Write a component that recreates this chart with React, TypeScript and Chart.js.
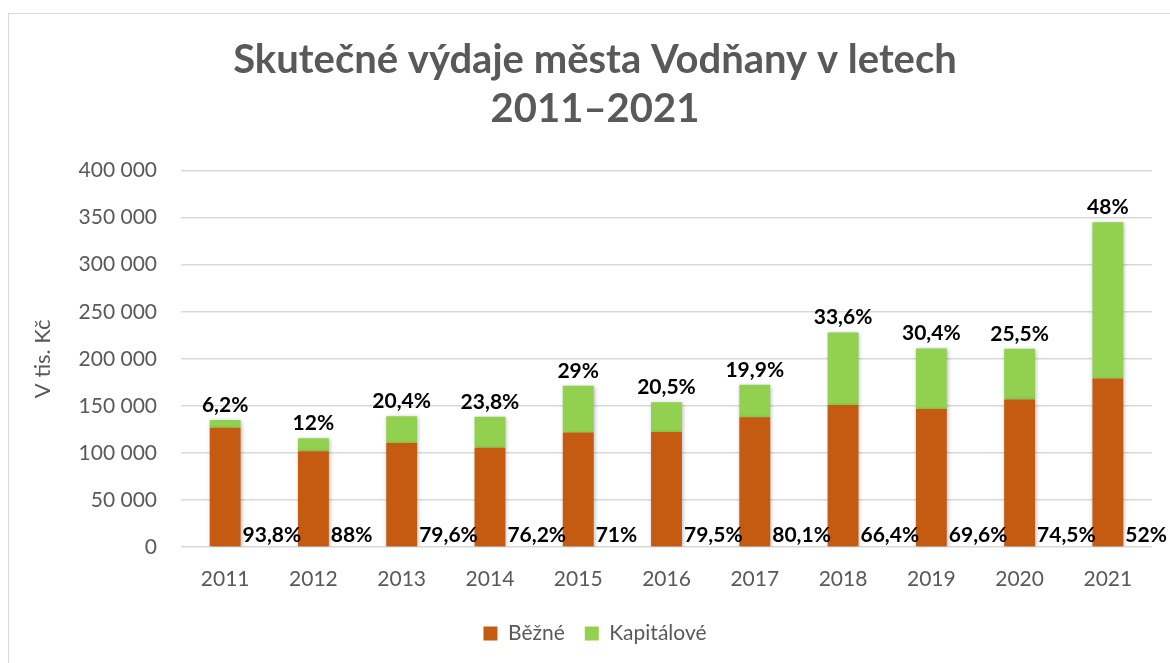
import React, { useEffect, useRef } from "react";
import { Chart, registerables } from "chart.js";

Chart.register(...registerables);

const years = ["2011", "2012", "2013", "2014", "2015", "2016", "2017", "2018", "2019", "2020", "2021"];
const bezne = [126600, 101800, 110600, 105400, 121600, 122300, 138000, 151000, 146700, 156800, 179000];
const kapitalove = [8400, 13900, 28400, 32900, 49700, 31600, 34300, 77000, 64300, 53800, 166000];
const bezneLabels = ["93,8%", "88%", "79,6%", "76,2%", "71%", "79,5%", "80,1%", "66,4%", "69,6%", "74,5%", "52%"];
const kapitaloveLabels = ["6,2%", "12%", "20,4%", "23,8%", "29%", "20,5%", "19,9%", "33,6%", "30,4%", "25,5%", "48%"];
const titleLines = ["Skutečné výdaje města Vodňany v letech", "2011–2021"];
const yAxisTitle = "V tis. Kč";

const FONT = "Lato, 'Open Sans', sans-serif";
const GRAY = "#595959";

const labelPlugin = {
  id: "pctLabels",
  beforeDatasetsDraw(chart: any) {
    const ctx = chart.ctx;
    ctx.save();
    ctx.shadowColor = "rgba(0,0,0,0.28)";
    ctx.shadowBlur = 4;
    ctx.shadowOffsetX = 1;
    ctx.shadowOffsetY = 1;
  },
  afterDatasetsDraw(chart: any) {
    const ctx = chart.ctx;
    ctx.restore();
    ctx.save();
    ctx.fillStyle = "#000000";
    ctx.font = `bold 21px ${FONT}`;
    const m0 = chart.getDatasetMeta(0);
    const m1 = chart.getDatasetMeta(1);
    const base = chart.scales.y.getPixelForValue(0);
    m1.data.forEach((bar: any, i: number) => {
      ctx.textAlign = "center";
      ctx.textBaseline = "alphabetic";
      ctx.fillText(kapitaloveLabels[i], bar.x, bar.y - 8);
    });
    m0.data.forEach((bar: any, i: number) => {
      ctx.textAlign = "left";
      ctx.textBaseline = "alphabetic";
      ctx.fillText(bezneLabels[i], bar.x + bar.width / 2 + 2, base - 5);
    });
    ctx.restore();
  },
};

export default function App() {
  const ref = useRef<HTMLCanvasElement>(null);
  useEffect(() => {
    document.body.style.margin = "0";
    const canvas = ref.current!;
    const chart = new Chart(canvas, {
      type: "bar",
      data: {
        labels: years,
        datasets: [
          { label: "Běžné", data: bezne, backgroundColor: "#C55A11", barPercentage: 0.35, categoryPercentage: 1 },
          { label: "Kapitálové", data: kapitalove, backgroundColor: "#92D050", barPercentage: 0.35, categoryPercentage: 1 },
        ],
      },
      options: {
        animation: false,
        responsive: false,
        layout: { padding: { top: 0, left: 0, right: 0, bottom: 9 } },
        scales: {
          x: {
            stacked: true,
            grid: { display: false, drawTicks: false },
            border: { display: false },
            ticks: { color: GRAY, font: { family: FONT, size: 21 }, padding: 20 },
            afterFit: (s: any) => { s.height = 56; },
          },
          y: {
            stacked: true,
            min: 0,
            max: 400000,
            grid: { color: "#D9D9D9", lineWidth: 1.5, drawTicks: false },
            border: { display: false },
            ticks: {
              stepSize: 50000,
              color: GRAY,
              font: { family: FONT, size: 21 },
              padding: 24,
              callback: (v: any) => Number(v).toLocaleString("en-US").replace(/,/g, " "),
            },
            title: {
              display: true,
              text: yAxisTitle,
              color: GRAY,
              font: { family: FONT, size: 22 },
              padding: { top: 30, bottom: 0 },
            },
            afterFit: (s: any) => { s.width = 181; },
          },
          yRight: {
            position: "right",
            display: true,
            grid: { display: false, drawTicks: false },
            border: { display: false },
            ticks: { display: false },
            afterFit: (s: any) => { s.width = 38; },
          },
        },
        plugins: {
          title: {
            display: true,
            text: titleLines,
            color: GRAY,
            font: { family: FONT, size: 40, weight: "bold", lineHeight: 1.22 },
            padding: { top: 36, bottom: 37 },
          },
          legend: {
            position: "bottom",
            labels: {
              color: GRAY,
              font: { family: FONT, size: 21 },
              boxWidth: 14,
              boxHeight: 14,
              padding: 20,
            },
          },
          tooltip: { enabled: false },
        },
      },
      plugins: [labelPlugin],
    } as any);
    return () => chart.destroy();
  }, []);
  return (
    <div style={{ position: "relative", width: 1170, height: 663, overflow: "hidden", background: "#fff" }}>
      <div
        style={{
          position: "absolute",
          left: 8,
          top: 13,
          width: 1300,
          height: 800,
          border: "1px solid #D9D9D9",
        }}
      />
      <canvas ref={ref} width={1190} height={663} style={{ position: "absolute", left: 0, top: 0, width: 1190, height: 663 }} />
    </div>
  );
}
